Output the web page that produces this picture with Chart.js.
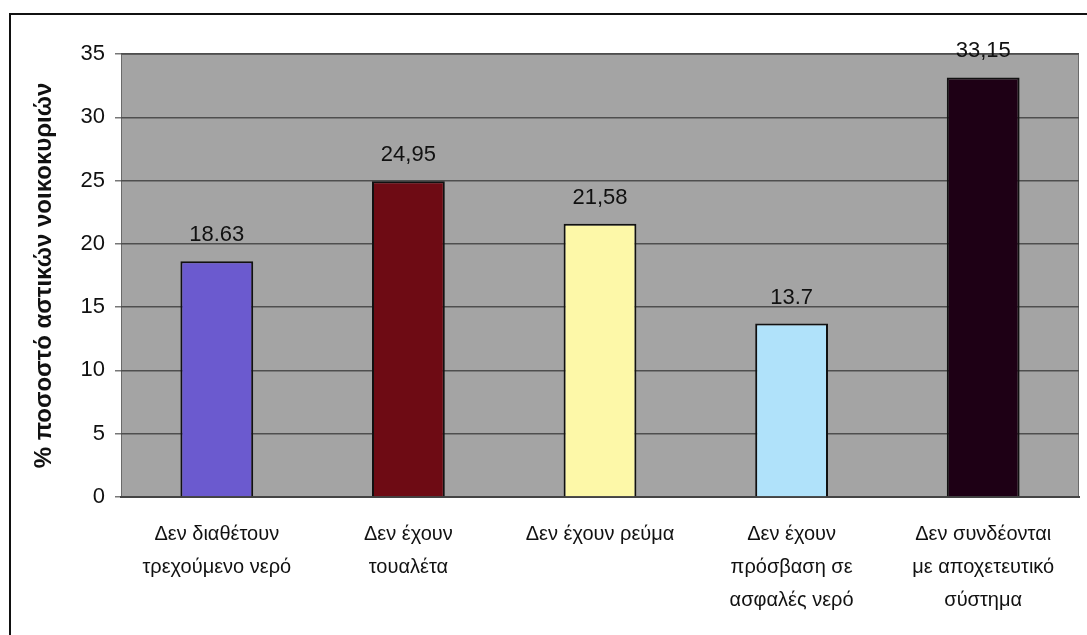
<!DOCTYPE html>
<html>
<head>
<meta charset="utf-8">
<script src="https://cdn.jsdelivr.net/npm/chart.js@4"></script>
<style>
	html, body { margin: 0; padding: 0; background: #fff; }
	#wrap { position: relative; width: 1087px; height: 635px; }
	#frame { position: absolute; left: 9px; top: 13px; right: 0; bottom: 0; border-top: 2px solid #111; border-left: 2px solid #111; }
	canvas { position: absolute; left: 0; top: 0; }
</style>
</head>
<body>
<div id="wrap">
	<div id="frame"></div>
	<canvas id="c" width="1087" height="635"></canvas>
</div>
<script>
// data
const categories = [
	['Δεν διαθέτουν', 'τρεχούμενο νερό'],
	['Δεν έχουν', 'τουαλέτα'],
	['Δεν έχουν ρεύμα'],
	['Δεν έχουν', 'πρόσβαση σε', 'ασφαλές νερό'],
	['Δεν συνδέονται', 'με αποχετευτικό', 'σύστημα']
];
const values = [18.63, 24.95, 21.58, 13.7, 33.15];
const valueLabels = ['18.63', '24,95', '21,58', '13.7', '33,15'];
const barColors = ['#6b5acf', '#6e0b14', '#fdf8a8', '#b0e2fa', '#1e0015'];
const yTitle = '% ποσοστό αστικών νοικοκυριών';

const FONT = 'Liberation Sans, Arial, sans-serif';

/* ---------- plugins ---------- */
const plotBg = {
	id: 'plotBg',
	beforeDraw(chart) {
		const { ctx, chartArea: a } = chart;
		ctx.save();
		ctx.fillStyle = '#a4a4a4';
		ctx.fillRect(a.left, a.top, a.right - a.left, a.bottom - a.top);
		ctx.strokeStyle = '#6a6a6a';
		ctx.lineWidth = 1;
		ctx.strokeRect(a.left + 0.5, a.top + 0.5, a.right - a.left - 1, a.bottom - a.top - 1);
		ctx.restore();
	}
};

const valueTags = {
	id: 'valueTags',
	afterDatasetsDraw(chart) {
		const { ctx } = chart;
		const meta = chart.getDatasetMeta(0);
		ctx.save();
		ctx.fillStyle = '#111';
		ctx.font = '22px ' + FONT;
		ctx.textAlign = 'center';
		ctx.textBaseline = 'middle';
		meta.data.forEach((bar, i) => {
			ctx.fillText(valueLabels[i], bar.x, bar.y - 26);
		});
		ctx.restore();
	}
};

/* ---------- chart ---------- */
new Chart(document.getElementById('c').getContext('2d'), {
	type: 'bar',
	data: {
		labels: categories,
		datasets: [{
			data: values,
			backgroundColor: barColors,
			borderColor: '#111',
			borderWidth: 2,
			barPercentage: 0.38,
			categoryPercentage: 1
		}]
	},
	options: {
		responsive: false,
		animation: false,
		layout: { padding: { left: 0, top: 54, right: 8, bottom: 0 } },
		plugins: { legend: { display: false }, tooltip: { enabled: false } },
		scales: {
			x: {
				grid: { display: false },
				border: { display: true, color: '#444', width: 2 },
				ticks: {
					color: '#111',
					font: { family: FONT, size: 20, lineHeight: 1.65 },
					padding: 13,
					maxRotation: 0,
					autoSkip: false
				},
				afterFit(s) { s.height = 138; }
			},
			y: {
				min: 0,
				max: 35,
				ticks: { stepSize: 5, color: '#111', font: { family: FONT, size: 22 }, padding: 10 },
				grid: { color: '#4e4e4e', lineWidth: 1.5, tickLength: 6, tickColor: '#777' },
				border: { display: false },
				title: {
					display: true,
					text: yTitle,
					color: '#111',
					font: { family: FONT, size: 24, weight: 'bold' },
					padding: { top: 30, bottom: 0 }
				},
				afterFit(s) { s.width = 121; }
			}
		}
	},
	plugins: [plotBg, valueTags]
});
</script>
</body>
</html>
